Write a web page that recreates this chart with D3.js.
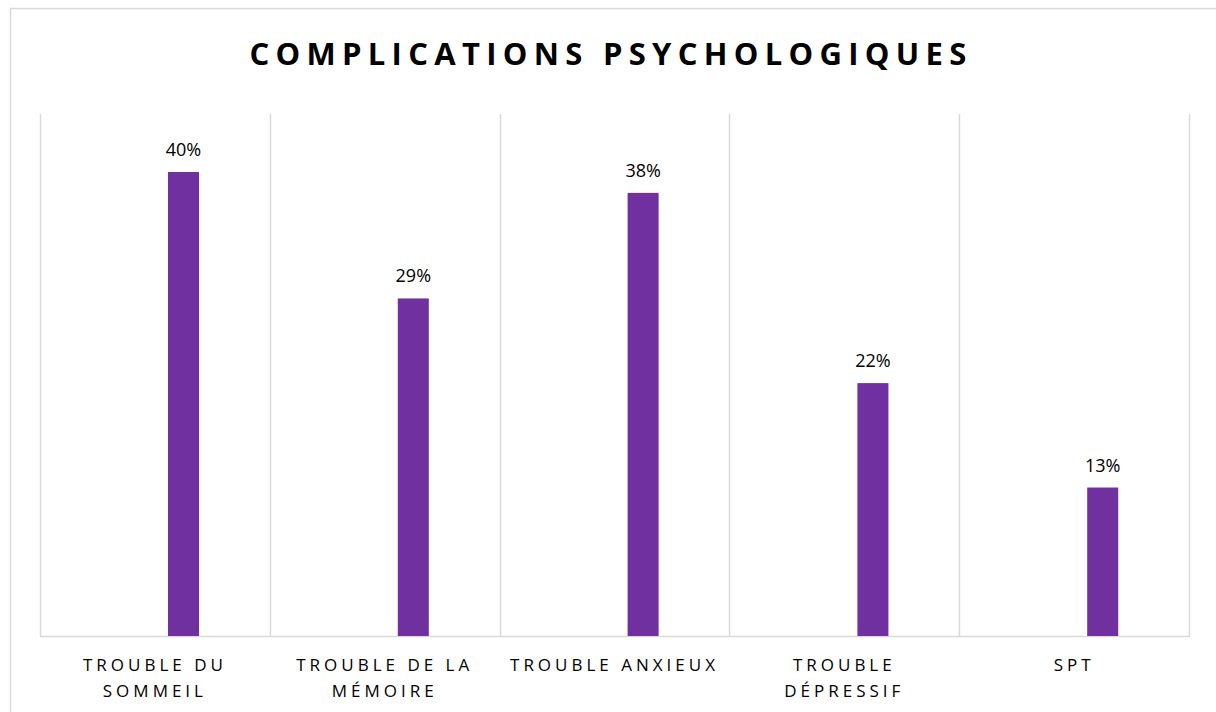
<!DOCTYPE html>
<html>
<head>
<meta charset="utf-8">
<script src="https://cdn.jsdelivr.net/npm/d3@7"></script>
<style>
  body { margin: 0; background: #fff; }
  svg { display: block; }
</style>
</head>
<body>
<div id="chart"></div>
<script>
// chart data
var categories = [["TROUBLE DU", "SOMMEIL"], ["TROUBLE DE LA", "MÉMOIRE"], ["TROUBLE ANXIEUX"], ["TROUBLE", "DÉPRESSIF"], ["SPT"]];
var values = [40, 29.1, 38.2, 21.8, 12.8];
var valueLabels = ["40%", "29%", "38%", "22%", "13%"];
var yMax = 45;

var width = 1216;
var height = 712;
var plotLeft = 40, plotRight = 1189, plotTop = 114, plotBottom = 636;

var svg = d3.select("#chart")
	.append("svg")
	.attr("width", width)
	.attr("height", height);

// outer frame (runs off the right/bottom like the original)
svg.append("rect")
	.attr("x", 10.5)
	.attr("y", 8.5)
	.attr("width", 1400)
	.attr("height", 900)
	.attr("fill", "none")
	.attr("stroke", "#d9d9d9")
	.attr("stroke-width", 1.5);

var idx = d3.range(categories.length);

var xScale = d3.scaleBand()
	.domain(idx)
	.range([plotLeft, plotRight])
	.padding(0);

var yScale = d3.scaleLinear()
	.domain([0, yMax])
	.range([plotBottom, plotTop]);

// vertical separators between categories
var edges = idx.map(function(i){ return xScale(i); }).concat([plotRight]);
svg.selectAll(".sep")
	.data(edges)
	.enter()
	.append("line")
	.attr("class", "sep")
	.attr("x1", function(d){ return Math.round(d) + 0.5; })
	.attr("x2", function(d){ return Math.round(d) + 0.5; })
	.attr("y1", yScale(yMax))
	.attr("y2", yScale(0))
	.attr("stroke", "#d9d9d9")
	.attr("stroke-width", 1.5);

// baseline
svg.append("line")
	.attr("x1", plotLeft)
	.attr("x2", plotRight + 1)
	.attr("y1", yScale(0) + 0.5)
	.attr("y2", yScale(0) + 0.5)
	.attr("stroke", "#d9d9d9")
	.attr("stroke-width", 1.5);

// bars sit right of the band centre (empty first series in the source)
var bw = xScale.bandwidth();
svg.selectAll(".bar")
	.data(values)
	.enter()
	.append("rect")
	.attr("class", "bar")
	.attr("x", function(d, i){ return xScale(i) + bw * 0.557; })
	.attr("width", bw * 0.135)
	.attr("y", function(d){ return yScale(d); })
	.attr("height", function(d){ return yScale(0) - yScale(d); })
	.attr("fill", "#7030a0");

// value labels
svg.selectAll(".val")
	.data(values)
	.enter()
	.append("text")
	.attr("class", "val")
	.attr("x", function(d, i){ return xScale(i) + bw * (0.557 + 0.0675); })
	.attr("y", function(d){ return yScale(d) - 16; })
	.attr("text-anchor", "middle")
	.style("font-family", "'Open Sans', sans-serif")
	.style("font-size", "18px")
	.style("fill", "#000")
	.text(function(d, i){ return valueLabels[i]; });

// category labels
var cat = svg.selectAll(".cat")
	.data(categories)
	.enter()
	.append("text")
	.attr("class", "cat")
	.attr("x", function(d, i){ return xScale(i) + bw / 2; })
	.attr("y", 671)
	.attr("text-anchor", "middle")
	.style("font-family", "'Open Sans', sans-serif")
	.style("font-size", "17px")
	.style("letter-spacing", "4px")
	.style("fill", "#000");

cat.selectAll("tspan")
	.data(function(d){ return d; })
	.enter()
	.append("tspan")
	.attr("x", function(){ return d3.select(this.parentNode).attr("x"); })
	.attr("dy", function(d, j){ return j == 0 ? 0 : 26; })
	.text(function(d){ return d; });

// title
svg.append("text")
	.attr("x", 611)
	.attr("y", 65)
	.attr("text-anchor", "middle")
	.style("font-family", "'Open Sans', sans-serif")
	.style("font-weight", "bold")
	.style("font-size", "31px")
	.style("letter-spacing", "6.3px")
	.style("fill", "#000")
	.text("COMPLICATIONS PSYCHOLOGIQUES");
</script>
</body>
</html>
